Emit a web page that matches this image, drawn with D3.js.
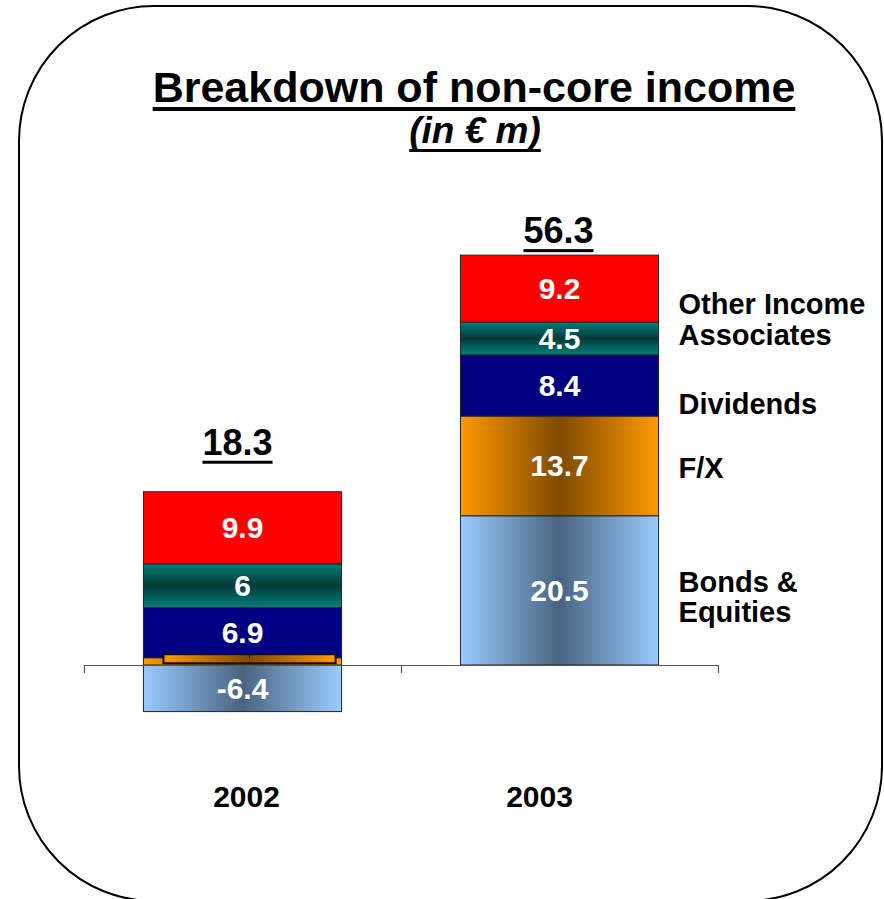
<!DOCTYPE html>
<html>
<head>
<meta charset="utf-8">
<script src="https://cdn.jsdelivr.net/npm/d3@7/dist/d3.min.js"></script>
<style>
  html, body { margin: 0; padding: 0; background: #fff; }
  svg { display: block; }
  text { font-family: "Liberation Sans", Arial, Helvetica, sans-serif; font-weight: bold; }
</style>
</head>
<body>
<svg id="chart" width="884" height="899"></svg>
<script>
// Non-core income by year, in € m
const years = ["2002", "2003"];
const seriesNames = ["Bonds & Equities", "F/X", "Dividends", "Associates", "Other Income"];
const bondsEquities = [-6.4, 20.5];
const fx = [1.0, 13.7];
const dividends = [6.9, 8.4];
const associates = [6, 4.5];
const otherIncome = [9.9, 9.2];
const totals = [18.3, 56.3];
const yDomain = [-10, 60];

const rows = years.map((yr, i) => ({
  year: yr,
  "Bonds & Equities": bondsEquities[i],
  "F/X": fx[i],
  "Dividends": dividends[i],
  "Associates": associates[i],
  "Other Income": otherIncome[i]
}));

const svg = d3.select("#chart");

// Rounded frame around the slide panel
svg.append("rect")
  .attr("x", 19).attr("y", 6).attr("width", 863).attr("height", 895)
  .attr("rx", 135).attr("ry", 135)
  .attr("fill", "none").attr("stroke", "#000").attr("stroke-width", 2);

// Gradients
const defs = svg.append("defs");
function hGrad(id, edge, mid) {
  const g = defs.append("linearGradient").attr("id", id)
    .attr("x1", "0").attr("y1", "0").attr("x2", "1").attr("y2", "0");
  g.append("stop").attr("offset", "0%").attr("stop-color", edge);
  g.append("stop").attr("offset", "50%").attr("stop-color", mid);
  g.append("stop").attr("offset", "100%").attr("stop-color", edge);
}
function vGrad(id, edge, mid) {
  const g = defs.append("linearGradient").attr("id", id)
    .attr("x1", "0").attr("y1", "0").attr("x2", "0").attr("y2", "1");
  g.append("stop").attr("offset", "0%").attr("stop-color", edge);
  g.append("stop").attr("offset", "50%").attr("stop-color", mid);
  g.append("stop").attr("offset", "100%").attr("stop-color", edge);
}
hGrad("gBonds", "#99ccff", "#4a6480");
hGrad("gFx", "#ff9900", "#7f4a00");
vGrad("gAssoc", "#007f7c", "#033a38");

const fills = {
  "Bonds & Equities": "url(#gBonds)",
  "F/X": "url(#gFx)",
  "Dividends": "#000080",
  "Associates": "url(#gAssoc)",
  "Other Income": "#ff0000"
};

// Scales
const x = d3.scaleBand().domain(years).range([84, 718]);
const barW = x.bandwidth() * 0.625;
const barX = d => x(d) + (x.bandwidth() - barW) / 2;
const y = d3.scaleLinear().domain(yDomain).range([737.8, 228.2]);

const stack = d3.stack().keys(seriesNames).offset(d3.stackOffsetDiverging);
const layers = stack(rows);

// Bars
const gBars = svg.append("g");
layers.forEach(layer => {
  gBars.selectAll(null)
    .data(layer)
    .join("rect")
    .attr("x", d => barX(d.data.year))
    .attr("width", barW)
    .attr("y", d => y(Math.max(d[0], d[1])))
    .attr("height", d => Math.abs(y(d[0]) - y(d[1])))
    .attr("fill", fills[layer.key])
    .attr("stroke", "#222")
    .attr("stroke-width", 1);
});

// Segment value labels (the 2002 F/X slice only carries an empty label box)
layers.forEach(layer => {
  layer.forEach((d, i) => {
    const v = d.data[layer.key];
    const cy = (y(d[0]) + y(d[1])) / 2;
    const cx = barX(d.data.year) + barW / 2;
    if (layer.key === "F/X" && i === 0) {
      const bx = barX(d.data.year) + 20;
      const bw = barW - 26;
      gBars.append("rect")
        .attr("x", bx).attr("y", y(d[1]) - 3.5)
        .attr("width", bw).attr("height", 9)
        .attr("fill", "url(#gFx)").attr("stroke", "#111").attr("stroke-width", 2);
      gBars.append("line")
        .attr("x1", bx + bw / 2).attr("x2", bx + bw / 2)
        .attr("y1", y(d[1]) - 3.5).attr("y2", y(d[1]))
        .attr("stroke", "#111").attr("stroke-width", 1);
      return;
    }
    gBars.append("text")
      .attr("x", cx).attr("y", cy + 10.5)
      .attr("text-anchor", "middle")
      .attr("font-size", 30)
      .attr("fill", "#fff")
      .text(String(v));
  });
});

// Category axis with ticks on the band edges
const edgeScale = d3.scaleLinear().domain([0, years.length]).range(x.range());
svg.append("g")
  .attr("transform", `translate(0,${y(0)})`)
  .call(d3.axisBottom(edgeScale).tickValues(d3.range(years.length + 1)).tickFormat("").tickSize(8).tickSizeOuter(0))
  .call(g => g.selectAll("path,line").attr("stroke", "#555").attr("stroke-width", 1.2));

// Year labels
const yearShift = [4, -20];
svg.selectAll(".yr")
  .data(years)
  .join("text")
  .attr("class", "yr")
  .attr("x", (d, i) => barX(d) + barW / 2 + yearShift[i])
  .attr("y", 807)
  .attr("text-anchor", "middle")
  .attr("font-size", 30)
  .attr("fill", "#000")
  .text(d => d);

// Underlined text helper
function underlined(txt, cx, baseline, size, gap, thick, italic) {
  const t = svg.append("text")
    .attr("x", cx).attr("y", baseline)
    .attr("text-anchor", "middle")
    .attr("font-size", size)
    .attr("font-style", italic ? "italic" : "normal")
    .attr("fill", "#000")
    .text(txt);
  const bb = t.node().getBBox();
  svg.append("rect")
    .attr("x", bb.x).attr("y", baseline + gap)
    .attr("width", bb.width).attr("height", thick)
    .attr("fill", "#000");
  return t;
}

// Totals above each bar
const totalGap = [37, 12];
const totalShift = [-5, -1];
years.forEach((yr, i) => {
  const top = d3.max(layers, l => l[i][1]);
  underlined(String(totals[i]), barX(yr) + barW / 2 + totalShift[i], y(top) - totalGap[i], 36, 6, 3, false);
});

// Title and unit
underlined("Breakdown of non-core income", 474, 102, 43, 5, 4, false);
underlined("(in € m)", 475, 143, 37, 6, 3, true);

// Series names beside the 2003 bar
const legendNudge = { "Other Income": 15, "Associates": -3, "Dividends": 19, "F/X": 2, "Bonds & Equities": 7 };
const last = years.length - 1;
const legendX = barX(years[last]) + barW + 20;
layers.slice().reverse().forEach(layer => {
  const d = layer[last];
  const cy = (y(d[0]) + y(d[1])) / 2 + legendNudge[layer.key];
  const lines = layer.key === "Bonds & Equities" ? ["Bonds &", "Equities"] : [layer.key];
  const t = svg.append("text")
    .attr("x", legendX)
    .attr("font-size", 29)
    .attr("fill", "#000");
  lines.forEach((ln, k) => {
    t.append("tspan")
      .attr("x", legendX)
      .attr("y", cy + 10 + (k - (lines.length - 1) / 2) * 30)
      .text(ln);
  });
});
</script>
</body>
</html>
